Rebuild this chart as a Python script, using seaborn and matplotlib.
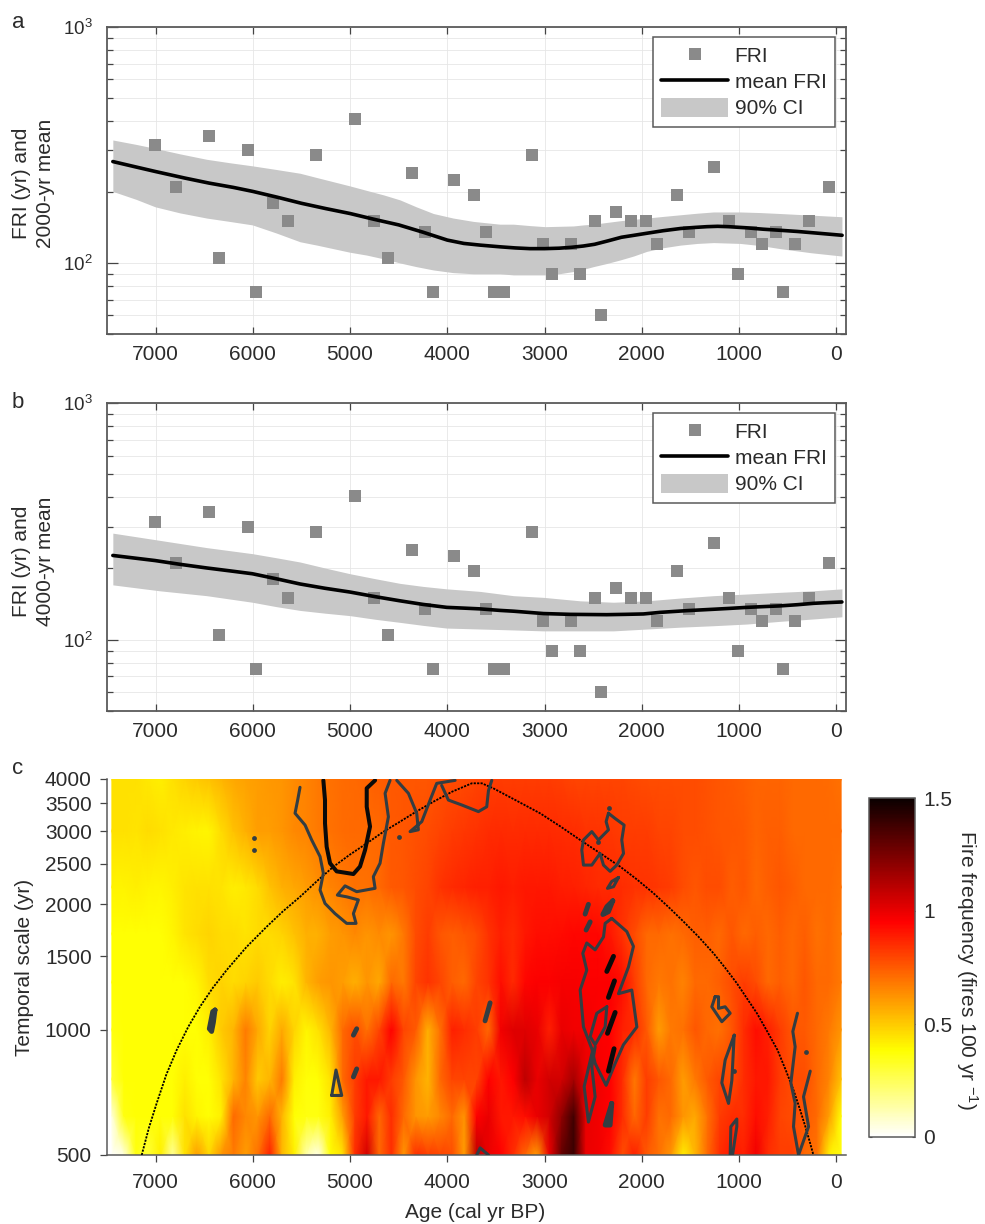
import matplotlib
matplotlib.use('Agg')
import matplotlib.pyplot as plt
from matplotlib.lines import Line2D
from matplotlib.patches import Patch
from matplotlib.ticker import FixedLocator, FixedFormatter, LogLocator, NullLocator
import pandas as pd
import seaborn as sns

# fire return intervals, same points in panels a and b
fri_age = [7005, 6794, 6450, 6344, 6045, 5970, 5789, 5638, 5353, 4945, 4753, 4607, 4362, 4226, 4152,
           3930, 3730, 3598, 3515, 3465, 3415, 3131, 3014, 2922, 2726, 2637, 2486, 2424, 2263, 2109,
           1961, 1842, 1643, 1512, 1255, 1108, 1015, 881, 761, 624, 552, 429, 278, 72]
fri_val = [315, 210, 345, 105, 300, 75, 180, 150, 286, 406, 150, 105, 240, 135, 75,
           225, 195, 135, 75, 75, 75, 286, 120, 90, 120, 90, 150, 60, 165, 150,
           150, 120, 195, 135, 255, 150, 90, 135, 120, 135, 75, 120, 150, 210]

# panel a, 2000-yr mean
mean_a_age = [7440, 7200, 7000, 6700, 6450, 6200, 6000, 5750, 5500, 5250, 5000, 4750, 4500, 4250, 4000, 3830,
              3660, 3450, 3300, 3150, 3000, 2850, 2725, 2600, 2485, 2350, 2210, 2080, 1950, 1780, 1600, 1450,
              1330, 1220, 1110, 930, 750, 570, 400, 170, -60]
mean_a_val = [269, 255, 244, 229, 218, 209, 201, 190, 179, 170, 162, 153, 145, 135, 125, 121,
              119, 117, 115.8, 115, 115, 115.5, 116.5, 118, 120, 124, 128.5, 131, 133.6, 137, 140, 141.5,
              142.5, 143, 142.5, 141, 139, 137.5, 136, 133.5, 131]
ci_a_age = [7440, 7200, 7005, 6750, 6475, 6240, 6005, 5760, 5515, 5340, 5173, 5000, 4830, 4650, 4486, 4320,
            4143, 3940, 3732, 3460, 3320, 3150, 2994, 2850, 2703, 2600, 2497, 2360, 2222, 2085, 1948, 1780,
            1605, 1430, 1262, 988, 780, 576, 260, -58]
ci_a_hi = [332, 318, 306, 290, 275, 266, 258, 249, 240, 230, 221, 212, 203, 194, 185, 173,
           162, 155, 150, 146, 146, 144, 142.5, 143, 143.5, 145, 146, 148.5, 151, 153, 155, 157.5,
           160, 162.5, 164.5, 164.5, 163.5, 162, 159.5, 157]
ci_a_lo = [201, 186, 173, 163, 155, 150, 145, 134, 123, 119, 115, 111, 108, 104, 100, 96.5,
           93.4, 91, 90, 90, 89, 89, 89, 90, 92, 94, 96.5, 99.5, 103, 107, 112, 116,
           119, 121, 122, 121, 118.5, 115, 110.5, 107]

# panel b, 4000-yr mean
mean_b_age = [7440, 7005, 6740, 6475, 6240, 6005, 5760, 5515, 5260, 5000, 4740, 4486, 4250, 4006, 3830, 3663,
              3457, 3320, 3011, 2737, 2550, 2360, 2170, 1983, 1811, 1537, 1263, 1090, 920, 750, 577, 400,
              234, 90, -58]
mean_b_val = [227, 216, 208, 201, 195.5, 190, 181, 172, 165, 159, 152, 146, 141, 137, 136, 135,
              133, 132, 129, 128, 127.8, 127.6, 128, 128.5, 130.5, 132.7, 134.5, 135.7, 137, 138, 139, 140.6,
              142.5, 143.5, 144.4]
ci_b_age = [7440, 6960, 6475, 6005, 5760, 5515, 5260, 5000, 4740, 4486, 4250, 4006, 3830, 3663, 3320, 3011,
            2634, 2291, 1948, 1606, 1263, 920, 577, 234, -58]
ci_b_hi = [282, 263, 245, 231, 222, 213, 201, 190, 181, 173, 168, 164, 162, 160, 153.5, 151,
           146, 144, 146, 150, 153.5, 156, 158.6, 161, 164]
ci_b_lo = [170.5, 161, 153.5, 144, 138, 133, 129.5, 126.4, 122, 118.4, 115, 112, 111.5, 111, 110, 109,
           109, 109, 111, 113, 114.6, 116.5, 119.6, 122.4, 125]

# panel c, fire frequency read by colour, one column every 125 yr
grid_age = [7450, 7325, 7200, 7075, 6950, 6825, 6700, 6575, 6450, 6325, 6200, 6075, 5950, 5825, 5700, 5575,
            5450, 5325, 5200, 5075, 4950, 4825, 4700, 4575, 4450, 4325, 4200, 4075, 3950, 3825, 3700, 3575,
            3450, 3325, 3200, 3075, 2950, 2825, 2700, 2575, 2450, 2325, 2200, 2075, 1950, 1825, 1700, 1575,
            1450, 1325, 1200, 1075, 950, 825, 700, 575, 450, 325, 200, 75, -50]
grid_scale = [500, 620, 760, 1000, 1300, 1700, 2200, 3000, 4000]
freq_500 = [0, .05, .36, .3, .42, .15, .45, .6, .48, .62, .68, .6, .7, .88, .55, .42,
            .12, .03, .38, .45, .85, 1.05, .72, .85, .62, .85, .82, .8, .78, .6, 1.1, 1.0,
            .95, .85, .72, .6, 1.0, 1.3, 1.4, 1.0, .98, .92, .78, .88, .75, .7, .62, .42,
            .55, .72, .85, .9, .88, .98, .85, .82, .82, .72, .7, .42, .36]
freq_620 = [.05, .36, .38, .38, .38, .38, .45, .4, .38, .42, .72, .65, .62, .72, .55, .38,
            .36, .36, .42, .6, .82, .9, .72, .85, .72, .62, .6, .65, .72, .62, .95, 1.0,
            .9, .9, .92, 1.0, 1.05, 1.2, 1.38, 1.0, .98, .95, .85, .72, .82, .7, .72, .62,
            .58, .7, .82, .85, .85, .92, .88, .8, .78, .75, .72, .6, .38]
freq_760 = [.3, .38, .38, .38, .38, .38, .42, .38, .38, .44, .55, .66, .5, .55, .68, .42,
            .37, .38, .45, .72, .82, .9, .9, .82, .75, .62, .55, .72, .8, .8, .8, .95,
            .9, .95, 1.1, 1.0, 1.05, 1.05, 1.15, 1.0, .98, .95, .85, .68, .82, .76, .72, .6,
            .68, .75, .8, .78, .85, .9, .9, .82, .78, .78, .72, .66, .52]
freq_1000 = [.36, .38, .38, .38, .38, .38, .38, .38, .42, .5, .55, .68, .58, .48, .58, .48,
             .4, .45, .55, .72, .78, .7, .8, .95, .8, .75, .56, .7, .88, .85, .82, .72,
             .98, 1.02, 1.02, 1.0, .88, 1.0, .98, .98, .96, .95, .88, .85, .75, .6, .68, .7,
             .76, .72, .7, .76, .85, .92, .88, .82, .76, .75, .72, .68, .62]
freq_1300 = [.38, .38, .38, .38, .38, .38, .38, .4, .46, .48, .46, .48, .5, .46, .42, .44,
             .55, .6, .62, .6, .56, .62, .58, .72, .68, .8, .84, .8, .74, .72, .8, .84,
             .92, .86, .94, .96, .96, .97, .97, .96, .96, .96, .92, .82, .72, .68, .7, .66,
             .72, .72, .74, .78, .82, .78, .72, .74, .72, .76, .72, .72, .68]
freq_1700 = [.38, .38, .38, .38, .38, .4, .44, .46, .48, .46, .46, .44, .46, .46, .48, .52,
             .56, .56, .6, .62, .65, .62, .64, .62, .68, .78, .82, .76, .74, .76, .78, .84,
             .88, .86, .9, .92, .92, .93, .94, .94, .94, .9, .84, .78, .72, .72, .7, .72,
             .74, .74, .72, .76, .72, .74, .72, .74, .72, .74, .7, .72, .68]
freq_2200 = [.41, .41, .42, .41, .4, .42, .44, .45, .45, .44, .42, .43, .46, .52, .56, .58,
             .6, .63, .66, .68, .7, .7, .72, .75, .76, .78, .8, .84, .86, .87, .88, .88,
             .9, .89, .9, .9, .9, .89, .88, .87, .86, .86, .85, .84, .84, .83, .82, .78,
             .76, .78, .78, .74, .76, .72, .74, .76, .74, .72, .72, .72, .7]
freq_3000 = [.45, .45, .44, .46, .45, .43, .42, .41, .4, .46, .52, .56, .6, .6, .62, .65,
             .66, .68, .7, .71, .72, .71, .72, .75, .76, .77, .78, .8, .82, .83, .84, .85,
             .86, .85, .86, .86, .86, .85, .85, .84, .84, .83, .82, .82, .82, .8, .8, .78,
             .78, .77, .76, .76, .75, .73, .74, .74, .72, .72, .72, .72, .72]
freq_4000 = [.45, .45, .45, .43, .42, .45, .48, .5, .52, .55, .58, .59, .6, .61, .62, .64,
             .66, .68, .7, .71, .72, .73, .74, .75, .76, .76, .76, .77, .78, .79, .8, .81,
             .82, .82, .82, .82, .82, .81, .8, .8, .8, .8, .8, .79, .78, .78, .78, .78,
             .78, .77, .76, .75, .74, .73, .73, .73, .72, .72, .72, .71, .7]

# cone of influence
coi_age = [7143, 7070, 6989, 6890, 6783, 6665, 6543, 6410, 6269, 6065, 5857, 5690, 5514, 5340, 5171, 5000,
           4828, 4660, 4486, 4315, 4143, 3950, 3748, 3645, 3528, 3290, 3045, 2840, 2634, 2430, 2222, 2050,
           1879, 1725, 1571, 1415, 1262, 1140, 1022, 920, 816, 710, 605, 520, 440, 375, 318, 275, 235]
coi_scale = [500, 580, 666, 780, 894, 1015, 1136, 1262, 1391, 1580, 1768, 1925, 2086, 2275, 2463, 2635,
             2803, 2985, 3160, 3345, 3528, 3730, 3906, 3906, 3800, 3550, 3308, 3080, 2855, 2655, 2463, 2295,
             2126, 1970, 1818, 1670, 1525, 1405, 1292, 1190, 1095, 990, 894, 800, 716, 645, 585, 540, 500]

# significance contours (age, temporal scale)
thin_contours = [
    ([5515, 5539, 5566, 5463, 5395, 5309, 5275, 5309, 5258, 5155, 5035, 4939, 4966, 4915, 5035, 5131, 5052,
      4932, 4743, 4761, 4692, 4658, 4606, 4640, 4589],
     [3820, 3560, 3310, 3100, 2855, 2605, 2375, 2165, 2010, 1900, 1800, 1800, 1900, 2050, 2085, 2105, 2215,
      2145, 2185, 2330, 2510, 2800, 3245, 3695, 3970]),
    ([4520, 4400, 4315, 4298, 4383, 4263, 4177, 4109, 3920],
     [3970, 3695, 3310, 3020, 2990, 3160, 3560, 3905, 3970]),
    ([4058, 3989, 3852, 3680, 3595, 3577, 3543],
     [3860, 3560, 3465, 3340, 3430, 3750, 3970]),
    ([5189, 5145, 5086, 5189], [695, 800, 695, 695]),
    ([3697, 3663, 3577], [500, 520, 500]),
    ([2343, 2367, 2343, 2446, 2514, 2600, 2617, 2600, 2514, 2429, 2394, 2326, 2257, 2188, 2206, 2182, 2274, 2343],
     [3310, 3160, 3020, 2855, 2990, 2855, 2700, 2485, 2485, 2650, 2485, 2400, 2485, 2650, 2855, 3100, 3215, 3310]),
    ([2240, 2309, 2353, 2291, 2240], [2320, 2270, 2185, 2205, 2320]),
    ([2309, 2154, 2086, 2137, 2240, 2103, 2051, 2189, 2274, 2367, 2480, 2514, 2600, 2634, 2566, 2607, 2566,
      2480, 2394, 2377, 2309],
     [1850, 1720, 1585, 1415, 1220, 1245, 1015, 920, 830, 735, 830, 900, 1015, 1245, 1390, 1525, 1615,
      1555, 1670, 1800, 1850]),
    ([2504, 2593, 2549, 2480, 2514, 2480], [895, 730, 600, 690, 815, 910]),
    ([2360, 2463, 2531, 2480, 2377, 2360], [1135, 1095, 962, 920, 1015, 1135]),
    ([1246, 1280, 1177, 1091, 1143, 1211, 1211, 1246], [1200, 1135, 1045, 1095, 1135, 1125, 1200, 1200]),
    ([1050, 1143, 1177, 1108, 1074, 1050], [970, 845, 745, 665, 755, 970]),
    ([1091, 1084, 1023, 1023, 1067], [500, 585, 610, 585, 500]),
    ([399, 447, 423, 467, 423, 440, 388, 285, 337, 268], [1095, 990, 910, 745, 665, 585, 500, 585, 690, 795]),
]
blob_contours = [
    ([6389, 6406, 6424, 6448, 6413, 6389], [1115, 1040, 990, 1005, 1105, 1115]),
    ([4932, 4966], [1005, 970]),
    ([4932, 4966], [805, 770]),
    ([3560, 3612], [1160, 1050]),
    ([2298, 2360, 2401, 2343, 2298], [2040, 1975, 1890, 1920, 2040]),
    ([2549, 2583], [2000, 1895]),
    ([2531, 2573], [1815, 1735]),
    ([2309, 2377, 2326, 2309], [665, 590, 590, 665]),
]
thick_contour_age = [5275, 5258, 5258, 5241, 5206, 5138, 4966, 4898, 4846, 4795, 4829, 4829, 4743]
thick_contour_scale = [3970, 3560, 3130, 2750, 2510, 2400, 2365, 2465, 2700, 3075, 3430, 3800, 3970]
black_bars = [
    ([2291, 2360], [1500, 1380]),
    ([2281, 2343], [1310, 1195]),
    ([2274, 2353], [1100, 980]),
    ([2285, 2343], [900, 795]),
]
dot_age = [5988, 5988, 4496, 2336, 2446, 1050, 313]
dot_scale = [2890, 2700, 2895, 3400, 2830, 795, 885]

age_ticks = [7000, 6000, 5000, 4000, 3000, 2000, 1000, 0]
scale_ticks = [500, 1000, 1500, 2000, 2500, 3000, 3500, 4000]
scale_labels = ['500', '1000', '1500', '2000', '2500', '3000', '3500', '4000']

sns.set_theme(style='ticks')
plt.rcParams['font.family'] = ['Liberation Sans', 'DejaVu Sans']
plt.rcParams['mathtext.default'] = 'regular'
plt.rcParams['text.color'] = '#2b2b2b'

EDGE = '#5a5a5a'
BAND = '#c8c8c8'
SQUARE = '#8a8a8a'
FS = 15
W, H = 985, 1224
fig = plt.figure(figsize=(W / 100, H / 100), dpi=100)


def add_axes(left, top, right, bottom):
    return fig.add_axes([left / W, 1 - bottom / H, (right - left) / W, (bottom - top) / H])


def fri_panel(ax, mean_age, mean_val, ci_age, ci_lo, ci_hi, legend_y):
    ax.set_yscale('log')
    ax.fill_between(ci_age, ci_lo, ci_hi, color=BAND, lw=0, zorder=2)
    sns.scatterplot(x=fri_age, y=fri_val, marker='s', s=70, color=SQUARE, linewidth=0, ax=ax, zorder=3)
    sns.lineplot(x=mean_age, y=mean_val, color='black', lw=2.6, estimator=None, sort=False, ax=ax, zorder=4)
    ax.set_xlim(7500, -100)
    ax.set_ylim(50, 1000)
    ax.set_xticks(age_ticks)
    ax.yaxis.set_major_locator(LogLocator(base=10, numticks=5))
    ax.yaxis.set_minor_locator(LogLocator(base=10, subs=range(2, 10), numticks=5))
    ax.yaxis.set_minor_formatter(plt.NullFormatter())
    ax.grid(True, which='major', color='#e6e6e6', lw=0.6)
    ax.grid(True, which='minor', axis='y', color='#e6e6e6', lw=0.6)
    ax.set_axisbelow(True)
    ax.tick_params(axis='both', which='both', direction='in', top=True, right=True, color='#444444',
                   labelcolor='#2b2b2b', width=0.9)
    ax.tick_params(axis='x', which='major', length=5, labelsize=FS, pad=8)
    ax.tick_params(axis='y', which='major', length=8, labelsize=13.5, pad=10)
    ax.tick_params(axis='y', which='minor', length=4)
    for s in ax.spines.values():
        s.set_color(EDGE)
        s.set_linewidth(1.3)
    handles = [Line2D([], [], marker='s', ls='', color=SQUARE, ms=8, mew=0, label='FRI'),
               Line2D([], [], color='black', lw=2.6, label='mean FRI'),
               Patch(color=BAND, lw=0, label='90% CI')]
    leg = ax.legend(handles=handles, loc='upper left', bbox_to_anchor=(546 / 739, legend_y), borderaxespad=0,
                    fontsize=FS, frameon=True, fancybox=False, framealpha=1, edgecolor=EDGE,
                    handlelength=3.2, handleheight=1.0, handletextpad=0.32, labelspacing=0.28,
                    borderpad=0.4)
    leg.get_frame().set_linewidth(1.1)
    ax.set_ylabel('')


# a
ax_a = add_axes(107, 27, 846, 334)
fri_panel(ax_a, mean_a_age, mean_a_val, ci_a_age, ci_a_lo, ci_a_hi, 1 - 10 / 307)
fig.text(33.5 / W, 1 - 183 / H, 'FRI (yr) and\n2000-yr mean', rotation=90, ha='center', va='center',
         fontsize=FS, linespacing=1.36)

# b
ax_b = add_axes(107, 403, 846, 711)
fri_panel(ax_b, mean_b_age, mean_b_val, ci_b_age, ci_b_lo, ci_b_hi, 1 - 10 / 308)
fig.text(33.5 / W, 1 - 561 / H, 'FRI (yr) and\n4000-yr mean', rotation=90, ha='center', va='center',
         fontsize=FS, linespacing=1.36)

# c
ax_c = add_axes(107, 779, 846, 1155)
freq = pd.DataFrame([freq_500, freq_620, freq_760, freq_1000, freq_1300, freq_1700, freq_2200, freq_3000, freq_4000],
                    index=grid_scale, columns=grid_age)
cmap = sns.color_palette('hot_r', as_cmap=True)
mesh = ax_c.pcolormesh(freq.columns.values, freq.index.values, freq.values, shading='gouraud',
                       cmap=cmap, vmin=0, vmax=1.5, zorder=1)
ax_c.set_yscale('log')
ax_c.set_xlim(7500, -100)
ax_c.set_ylim(500, 4000)
sns.lineplot(x=coi_age, y=coi_scale, color='black', lw=1.3, ls=(0, (1.2, 0.7)), estimator=None, sort=False,
             ax=ax_c, zorder=3)
for c_age, c_scale in thin_contours:
    sns.lineplot(x=c_age, y=c_scale, color='#333d42', lw=2.2, estimator=None, sort=False, ax=ax_c, zorder=4)
for c_age, c_scale in blob_contours:
    sns.lineplot(x=c_age, y=c_scale, color='#333d42', lw=3.5, estimator=None, sort=False, ax=ax_c, zorder=4)
for c_age, c_scale in black_bars:
    sns.lineplot(x=c_age, y=c_scale, color='#0a0a0a', lw=3.5, estimator=None, sort=False, ax=ax_c, zorder=5)
sns.lineplot(x=thick_contour_age, y=thick_contour_scale, color='#0a0a0a', lw=2.9, estimator=None, sort=False,
             ax=ax_c, zorder=5)
sns.scatterplot(x=dot_age, y=dot_scale, color='#333d42', s=12, linewidth=0, ax=ax_c, zorder=5)
ax_c.set_xticks(age_ticks)
ax_c.yaxis.set_major_locator(FixedLocator(scale_ticks))
ax_c.yaxis.set_major_formatter(FixedFormatter(scale_labels))
ax_c.yaxis.set_minor_locator(NullLocator())
ax_c.tick_params(axis='x', which='major', direction='out', length=5, width=0.9, color='#444444',
                 labelsize=FS, labelcolor='#2b2b2b', pad=8)
ax_c.tick_params(axis='y', which='major', direction='out', length=5, width=0.9, color='#444444',
                 labelsize=FS, labelcolor='#2b2b2b', pad=6)
sns.despine(ax=ax_c)
for s in ('left', 'bottom'):
    ax_c.spines[s].set_color(EDGE)
    ax_c.spines[s].set_linewidth(1.1)
fig.text(475 / W, 1 - 1212 / H, 'Age (cal yr BP)', ha='center', va='center', fontsize=FS)
fig.text(25 / W, 1 - 967 / H, 'Temporal scale (yr)', rotation=90, ha='center', va='center', fontsize=FS)

cax = add_axes(869, 798, 915, 1137)
cbar = fig.colorbar(mesh, cax=cax)
cbar.set_ticks([0, 0.5, 1, 1.5])
cbar.set_ticklabels(['0', '0.5', '1', '1.5'])
cax.tick_params(axis='y', direction='in', length=2.5, width=0.8, left=True, right=True, color='#444444',
                labelsize=FS, labelcolor='#2b2b2b', pad=6)
cbar.outline.set_edgecolor(EDGE)
cbar.outline.set_linewidth(1.1)
fig.text(967 / W, 1 - 970 / H, 'Fire frequency (fires 100 yr $^{-1}$)', rotation=270, ha='center', va='center',
         fontsize=FS)

# panel letters
for letter, y in zip('abc', [23, 403, 768]):
    fig.text(18 / W, 1 - y / H, letter, ha='center', va='center', fontsize=16)

fig.savefig('out.png', dpi=100)
